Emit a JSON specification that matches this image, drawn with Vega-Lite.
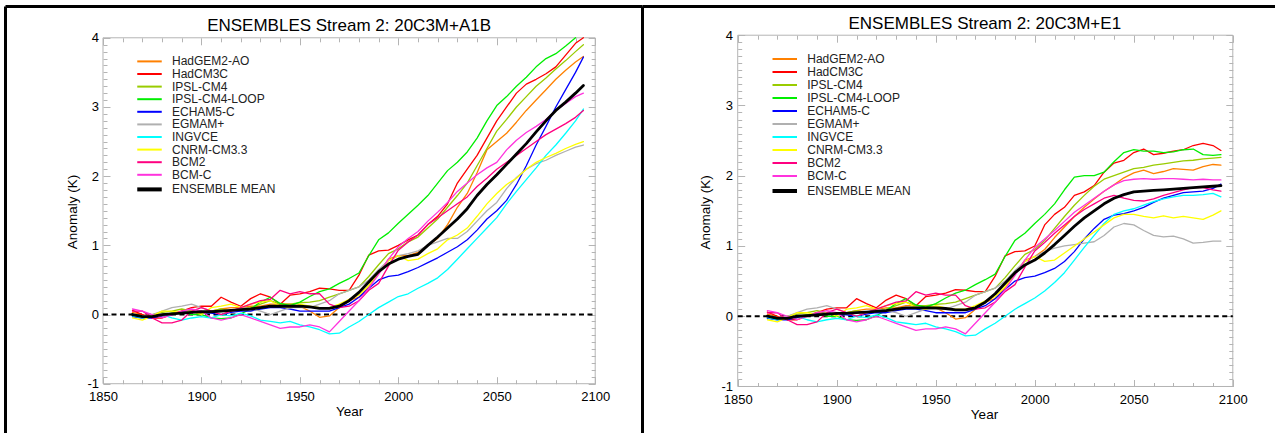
{
  "$schema": "https://vega.github.io/schema/vega-lite/v6.json",
  "background": "white",
  "padding": {"left": 5, "top": 6, "right": 0, "bottom": 0},
  "spacing": 0,
  "bounds": "flush",
  "config": {"view": {"stroke": null}, "font": "Liberation Sans", "axis": {"grid": false}},
  "resolve": {"scale": {"x": "independent", "y": "independent", "color": "independent"}, "axis": {"x": "independent", "y": "independent"}, "legend": {"color": "independent"}},
  "datasets": {
    "runs": [
      {"s":"h","t":1865,"HadGEM2-AO":0.03,"HadCM3C":0.06,"IPSL-CM4":0,"IPSL-CM4-LOOP":0,"ECHAM5-C":-0.03,"EGMAM+":0,"INGVCE":-0.02,"CNRM-CM3_3":-0.05,"BCM2":0.05,"BCM-C":0.08,"ENSEMBLE MEAN":0},
      {"s":"h","t":1870,"HadGEM2-AO":0,"HadCM3C":0,"IPSL-CM4":-0.03,"IPSL-CM4-LOOP":-0.02,"ECHAM5-C":-0.05,"EGMAM+":-0.02,"INGVCE":-0.05,"CNRM-CM3_3":-0.08,"BCM2":0.05,"BCM-C":0.05,"ENSEMBLE MEAN":-0.03},
      {"s":"h","t":1875,"HadGEM2-AO":-0.05,"HadCM3C":-0.05,"IPSL-CM4":0,"IPSL-CM4-LOOP":-0.03,"ECHAM5-C":-0.05,"EGMAM+":0,"INGVCE":-0.03,"CNRM-CM3_3":-0.02,"BCM2":-0.05,"BCM-C":0,"ENSEMBLE MEAN":-0.03},
      {"s":"h","t":1880,"HadGEM2-AO":-0.02,"HadCM3C":-0.05,"IPSL-CM4":0.03,"IPSL-CM4-LOOP":0,"ECHAM5-C":-0.02,"EGMAM+":0.05,"INGVCE":0,"CNRM-CM3_3":0.05,"BCM2":-0.12,"BCM-C":-0.05,"ENSEMBLE MEAN":0},
      {"s":"h","t":1885,"HadGEM2-AO":0.02,"HadCM3C":0,"IPSL-CM4":0.05,"IPSL-CM4-LOOP":0.02,"ECHAM5-C":0,"EGMAM+":0.1,"INGVCE":-0.05,"CNRM-CM3_3":0.05,"BCM2":-0.12,"BCM-C":0,"ENSEMBLE MEAN":0.01},
      {"s":"h","t":1890,"HadGEM2-AO":0.05,"HadCM3C":0.05,"IPSL-CM4":0.08,"IPSL-CM4-LOOP":0.03,"ECHAM5-C":0.03,"EGMAM+":0.12,"INGVCE":-0.08,"CNRM-CM3_3":0.02,"BCM2":-0.08,"BCM-C":0.05,"ENSEMBLE MEAN":0.02},
      {"s":"h","t":1895,"HadGEM2-AO":0.05,"HadCM3C":0.1,"IPSL-CM4":0.05,"IPSL-CM4-LOOP":0,"ECHAM5-C":0.05,"EGMAM+":0.15,"INGVCE":-0.05,"CNRM-CM3_3":0.05,"BCM2":0.05,"BCM-C":0.08,"ENSEMBLE MEAN":0.03},
      {"s":"h","t":1900,"HadGEM2-AO":0.03,"HadCM3C":0.12,"IPSL-CM4":0.02,"IPSL-CM4-LOOP":0,"ECHAM5-C":0.03,"EGMAM+":0.1,"INGVCE":-0.03,"CNRM-CM3_3":0,"BCM2":0.1,"BCM-C":0.05,"ENSEMBLE MEAN":0.04},
      {"s":"h","t":1905,"HadGEM2-AO":0.05,"HadCM3C":0.12,"IPSL-CM4":0.05,"IPSL-CM4-LOOP":-0.05,"ECHAM5-C":0.02,"EGMAM+":0.05,"INGVCE":-0.05,"CNRM-CM3_3":0.1,"BCM2":0.05,"BCM-C":-0.05,"ENSEMBLE MEAN":0.04},
      {"s":"h","t":1910,"HadGEM2-AO":0.08,"HadCM3C":0.25,"IPSL-CM4":0.08,"IPSL-CM4-LOOP":-0.06,"ECHAM5-C":0,"EGMAM+":0,"INGVCE":0,"CNRM-CM3_3":0.12,"BCM2":0,"BCM-C":-0.08,"ENSEMBLE MEAN":0.05},
      {"s":"h","t":1915,"HadGEM2-AO":0.1,"HadCM3C":0.18,"IPSL-CM4":0.05,"IPSL-CM4-LOOP":-0.05,"ECHAM5-C":0.03,"EGMAM+":0.05,"INGVCE":-0.02,"CNRM-CM3_3":0.15,"BCM2":0.05,"BCM-C":-0.05,"ENSEMBLE MEAN":0.06},
      {"s":"h","t":1920,"HadGEM2-AO":0.1,"HadCM3C":0.12,"IPSL-CM4":0.08,"IPSL-CM4-LOOP":0.01,"ECHAM5-C":0.05,"EGMAM+":0.1,"INGVCE":0.02,"CNRM-CM3_3":0.1,"BCM2":0.1,"BCM-C":0,"ENSEMBLE MEAN":0.07},
      {"s":"h","t":1925,"HadGEM2-AO":0.12,"HadCM3C":0.23,"IPSL-CM4":0.1,"IPSL-CM4-LOOP":0.08,"ECHAM5-C":0.05,"EGMAM+":0.08,"INGVCE":-0.02,"CNRM-CM3_3":0.15,"BCM2":0.15,"BCM-C":-0.05,"ENSEMBLE MEAN":0.08},
      {"s":"h","t":1930,"HadGEM2-AO":0.12,"HadCM3C":0.3,"IPSL-CM4":0.15,"IPSL-CM4-LOOP":0.18,"ECHAM5-C":0.08,"EGMAM+":0.05,"INGVCE":-0.08,"CNRM-CM3_3":0.18,"BCM2":0.2,"BCM-C":-0.1,"ENSEMBLE MEAN":0.1},
      {"s":"h","t":1935,"HadGEM2-AO":0.15,"HadCM3C":0.25,"IPSL-CM4":0.2,"IPSL-CM4-LOOP":0.25,"ECHAM5-C":0.1,"EGMAM+":0,"INGVCE":-0.1,"CNRM-CM3_3":0.2,"BCM2":0.22,"BCM-C":-0.15,"ENSEMBLE MEAN":0.12},
      {"s":"h","t":1940,"HadGEM2-AO":0.15,"HadCM3C":0.15,"IPSL-CM4":0.15,"IPSL-CM4-LOOP":0.16,"ECHAM5-C":0.1,"EGMAM+":0.05,"INGVCE":-0.12,"CNRM-CM3_3":0.12,"BCM2":0.35,"BCM-C":-0.2,"ENSEMBLE MEAN":0.12},
      {"s":"h","t":1945,"HadGEM2-AO":0.15,"HadCM3C":0.28,"IPSL-CM4":0.15,"IPSL-CM4-LOOP":0.13,"ECHAM5-C":0.08,"EGMAM+":0.1,"INGVCE":-0.1,"CNRM-CM3_3":0.1,"BCM2":0.3,"BCM-C":-0.18,"ENSEMBLE MEAN":0.12},
      {"s":"h","t":1950,"HadGEM2-AO":0.12,"HadCM3C":0.3,"IPSL-CM4":0.17,"IPSL-CM4-LOOP":0.18,"ECHAM5-C":0.05,"EGMAM+":0.1,"INGVCE":-0.15,"CNRM-CM3_3":0.15,"BCM2":0.33,"BCM-C":-0.18,"ENSEMBLE MEAN":0.12},
      {"s":"h","t":1955,"HadGEM2-AO":0.05,"HadCM3C":0.33,"IPSL-CM4":0.18,"IPSL-CM4-LOOP":0.26,"ECHAM5-C":0.05,"EGMAM+":0.1,"INGVCE":-0.18,"CNRM-CM3_3":0.12,"BCM2":0.3,"BCM-C":-0.15,"ENSEMBLE MEAN":0.11},
      {"s":"h","t":1960,"HadGEM2-AO":-0.04,"HadCM3C":0.38,"IPSL-CM4":0.2,"IPSL-CM4-LOOP":0.33,"ECHAM5-C":0.05,"EGMAM+":0.15,"INGVCE":-0.22,"CNRM-CM3_3":0.1,"BCM2":0.3,"BCM-C":-0.18,"ENSEMBLE MEAN":0.09},
      {"s":"h","t":1965,"HadGEM2-AO":-0.02,"HadCM3C":0.37,"IPSL-CM4":0.25,"IPSL-CM4-LOOP":0.37,"ECHAM5-C":0.05,"EGMAM+":0.2,"INGVCE":-0.28,"CNRM-CM3_3":0.1,"BCM2":0.15,"BCM-C":-0.25,"ENSEMBLE MEAN":0.09},
      {"s":"h","t":1970,"HadGEM2-AO":0.1,"HadCM3C":0.35,"IPSL-CM4":0.3,"IPSL-CM4-LOOP":0.45,"ECHAM5-C":0.1,"EGMAM+":0.3,"INGVCE":-0.27,"CNRM-CM3_3":0.15,"BCM2":0.1,"BCM-C":-0.1,"ENSEMBLE MEAN":0.12},
      {"s":"h","t":1975,"HadGEM2-AO":0.2,"HadCM3C":0.35,"IPSL-CM4":0.35,"IPSL-CM4-LOOP":0.52,"ECHAM5-C":0.15,"EGMAM+":0.35,"INGVCE":-0.18,"CNRM-CM3_3":0.22,"BCM2":0.12,"BCM-C":0.05,"ENSEMBLE MEAN":0.2},
      {"s":"h","t":1980,"HadGEM2-AO":0.25,"HadCM3C":0.57,"IPSL-CM4":0.4,"IPSL-CM4-LOOP":0.6,"ECHAM5-C":0.25,"EGMAM+":0.4,"INGVCE":-0.1,"CNRM-CM3_3":0.28,"BCM2":0.2,"BCM-C":0.2,"ENSEMBLE MEAN":0.32},
      {"s":"h","t":1985,"HadGEM2-AO":0.4,"HadCM3C":0.86,"IPSL-CM4":0.55,"IPSL-CM4-LOOP":0.85,"ECHAM5-C":0.38,"EGMAM+":0.5,"INGVCE":0,"CNRM-CM3_3":0.42,"BCM2":0.35,"BCM-C":0.38,"ENSEMBLE MEAN":0.47},
      {"s":"h","t":1990,"HadGEM2-AO":0.6,"HadCM3C":0.92,"IPSL-CM4":0.72,"IPSL-CM4-LOOP":1.08,"ECHAM5-C":0.5,"EGMAM+":0.65,"INGVCE":0.1,"CNRM-CM3_3":0.6,"BCM2":0.45,"BCM-C":0.58,"ENSEMBLE MEAN":0.62},
      {"s":"h","t":1995,"HadGEM2-AO":0.8,"HadCM3C":0.93,"IPSL-CM4":0.88,"IPSL-CM4-LOOP":1.18,"ECHAM5-C":0.55,"EGMAM+":0.78,"INGVCE":0.18,"CNRM-CM3_3":0.78,"BCM2":0.7,"BCM-C":0.8,"ENSEMBLE MEAN":0.73},
      {"s":"a","t":2000,"HadGEM2-AO":0.85,"HadCM3C":1.0,"IPSL-CM4":0.95,"IPSL-CM4-LOOP":1.32,"ECHAM5-C":0.57,"EGMAM+":0.85,"INGVCE":0.26,"CNRM-CM3_3":0.85,"BCM2":0.93,"BCM-C":0.98,"ENSEMBLE MEAN":0.8},
      {"s":"a","t":2005,"HadGEM2-AO":0.85,"HadCM3C":1.08,"IPSL-CM4":1.05,"IPSL-CM4-LOOP":1.45,"ECHAM5-C":0.62,"EGMAM+":0.88,"INGVCE":0.3,"CNRM-CM3_3":0.78,"BCM2":1.05,"BCM-C":1.1,"ENSEMBLE MEAN":0.84},
      {"s":"a","t":2010,"HadGEM2-AO":0.9,"HadCM3C":1.15,"IPSL-CM4":1.12,"IPSL-CM4-LOOP":1.58,"ECHAM5-C":0.68,"EGMAM+":0.92,"INGVCE":0.38,"CNRM-CM3_3":0.8,"BCM2":1.15,"BCM-C":1.2,"ENSEMBLE MEAN":0.87},
      {"s":"a","t":2015,"HadGEM2-AO":1.0,"HadCM3C":1.3,"IPSL-CM4":1.25,"IPSL-CM4-LOOP":1.72,"ECHAM5-C":0.75,"EGMAM+":1.0,"INGVCE":0.45,"CNRM-CM3_3":0.88,"BCM2":1.3,"BCM-C":1.35,"ENSEMBLE MEAN":1.0},
      {"s":"a","t":2020,"HadGEM2-AO":1.1,"HadCM3C":1.42,"IPSL-CM4":1.38,"IPSL-CM4-LOOP":1.9,"ECHAM5-C":0.82,"EGMAM+":1.05,"INGVCE":0.53,"CNRM-CM3_3":0.95,"BCM2":1.4,"BCM-C":1.48,"ENSEMBLE MEAN":1.12},
      {"s":"a","t":2025,"HadGEM2-AO":1.3,"HadCM3C":1.6,"IPSL-CM4":1.55,"IPSL-CM4-LOOP":2.08,"ECHAM5-C":0.9,"EGMAM+":1.1,"INGVCE":0.65,"CNRM-CM3_3":1.08,"BCM2":1.5,"BCM-C":1.62,"ENSEMBLE MEAN":1.25},
      {"s":"a","t":2030,"HadGEM2-AO":1.55,"HadCM3C":1.9,"IPSL-CM4":1.72,"IPSL-CM4-LOOP":2.2,"ECHAM5-C":0.98,"EGMAM+":1.1,"INGVCE":0.8,"CNRM-CM3_3":1.15,"BCM2":1.6,"BCM-C":1.78,"ENSEMBLE MEAN":1.38},
      {"s":"a","t":2035,"HadGEM2-AO":1.75,"HadCM3C":2.1,"IPSL-CM4":1.9,"IPSL-CM4-LOOP":2.35,"ECHAM5-C":1.08,"EGMAM+":1.2,"INGVCE":0.95,"CNRM-CM3_3":1.25,"BCM2":1.7,"BCM-C":1.9,"ENSEMBLE MEAN":1.53},
      {"s":"a","t":2040,"HadGEM2-AO":2.05,"HadCM3C":2.3,"IPSL-CM4":2.15,"IPSL-CM4-LOOP":2.55,"ECHAM5-C":1.22,"EGMAM+":1.35,"INGVCE":1.1,"CNRM-CM3_3":1.42,"BCM2":1.85,"BCM-C":2.02,"ENSEMBLE MEAN":1.72},
      {"s":"a","t":2045,"HadGEM2-AO":2.38,"HadCM3C":2.55,"IPSL-CM4":2.4,"IPSL-CM4-LOOP":2.8,"ECHAM5-C":1.38,"EGMAM+":1.5,"INGVCE":1.25,"CNRM-CM3_3":1.6,"BCM2":1.97,"BCM-C":2.12,"ENSEMBLE MEAN":1.88},
      {"s":"a","t":2050,"HadGEM2-AO":2.5,"HadCM3C":2.8,"IPSL-CM4":2.65,"IPSL-CM4-LOOP":3.02,"ECHAM5-C":1.5,"EGMAM+":1.62,"INGVCE":1.4,"CNRM-CM3_3":1.75,"BCM2":2.1,"BCM-C":2.2,"ENSEMBLE MEAN":2.02},
      {"s":"a","t":2055,"HadGEM2-AO":2.62,"HadCM3C":3.0,"IPSL-CM4":2.82,"IPSL-CM4-LOOP":3.15,"ECHAM5-C":1.65,"EGMAM+":1.82,"INGVCE":1.6,"CNRM-CM3_3":1.88,"BCM2":2.2,"BCM-C":2.38,"ENSEMBLE MEAN":2.17},
      {"s":"a","t":2060,"HadGEM2-AO":2.78,"HadCM3C":3.2,"IPSL-CM4":3.0,"IPSL-CM4-LOOP":3.3,"ECHAM5-C":1.88,"EGMAM+":1.98,"INGVCE":1.78,"CNRM-CM3_3":1.97,"BCM2":2.3,"BCM-C":2.52,"ENSEMBLE MEAN":2.32},
      {"s":"a","t":2065,"HadGEM2-AO":2.95,"HadCM3C":3.33,"IPSL-CM4":3.15,"IPSL-CM4-LOOP":3.43,"ECHAM5-C":2.15,"EGMAM+":2.1,"INGVCE":1.95,"CNRM-CM3_3":2.1,"BCM2":2.4,"BCM-C":2.63,"ENSEMBLE MEAN":2.47},
      {"s":"a","t":2070,"HadGEM2-AO":3.1,"HadCM3C":3.4,"IPSL-CM4":3.3,"IPSL-CM4-LOOP":3.58,"ECHAM5-C":2.45,"EGMAM+":2.18,"INGVCE":2.12,"CNRM-CM3_3":2.2,"BCM2":2.5,"BCM-C":2.72,"ENSEMBLE MEAN":2.64},
      {"s":"a","t":2075,"HadGEM2-AO":3.25,"HadCM3C":3.48,"IPSL-CM4":3.42,"IPSL-CM4-LOOP":3.7,"ECHAM5-C":2.72,"EGMAM+":2.23,"INGVCE":2.3,"CNRM-CM3_3":2.27,"BCM2":2.6,"BCM-C":2.82,"ENSEMBLE MEAN":2.8},
      {"s":"a","t":2080,"HadGEM2-AO":3.4,"HadCM3C":3.58,"IPSL-CM4":3.55,"IPSL-CM4-LOOP":3.77,"ECHAM5-C":3.0,"EGMAM+":2.3,"INGVCE":2.45,"CNRM-CM3_3":2.33,"BCM2":2.68,"BCM-C":2.95,"ENSEMBLE MEAN":2.95},
      {"s":"a","t":2085,"HadGEM2-AO":3.53,"HadCM3C":3.75,"IPSL-CM4":3.67,"IPSL-CM4-LOOP":3.88,"ECHAM5-C":3.25,"EGMAM+":2.36,"INGVCE":2.62,"CNRM-CM3_3":2.4,"BCM2":2.76,"BCM-C":3.05,"ENSEMBLE MEAN":3.07},
      {"s":"a","t":2090,"HadGEM2-AO":3.65,"HadCM3C":3.92,"IPSL-CM4":3.8,"IPSL-CM4-LOOP":4.0,"ECHAM5-C":3.5,"EGMAM+":2.42,"INGVCE":2.8,"CNRM-CM3_3":2.46,"BCM2":2.85,"BCM-C":3.15,"ENSEMBLE MEAN":3.2},
      {"s":"a","t":2094,"HadGEM2-AO":3.73,"HadCM3C":4.0,"IPSL-CM4":3.9,"IPSL-CM4-LOOP":null,"ECHAM5-C":3.72,"EGMAM+":2.45,"INGVCE":2.97,"CNRM-CM3_3":2.5,"BCM2":2.95,"BCM-C":3.2,"ENSEMBLE MEAN":3.31},
      {"s":"e","t":2000,"HadGEM2-AO":0.85,"HadCM3C":1.0,"IPSL-CM4":0.95,"IPSL-CM4-LOOP":1.32,"ECHAM5-C":0.57,"EGMAM+":0.85,"INGVCE":0.26,"CNRM-CM3_3":0.85,"BCM2":0.93,"BCM-C":0.98,"ENSEMBLE MEAN":0.8},
      {"s":"e","t":2005,"HadGEM2-AO":0.95,"HadCM3C":1.3,"IPSL-CM4":1.08,"IPSL-CM4-LOOP":1.45,"ECHAM5-C":0.62,"EGMAM+":0.92,"INGVCE":0.36,"CNRM-CM3_3":0.78,"BCM2":1.05,"BCM-C":1.1,"ENSEMBLE MEAN":0.9},
      {"s":"e","t":2010,"HadGEM2-AO":1.12,"HadCM3C":1.45,"IPSL-CM4":1.25,"IPSL-CM4-LOOP":1.6,"ECHAM5-C":0.68,"EGMAM+":0.97,"INGVCE":0.48,"CNRM-CM3_3":0.8,"BCM2":1.18,"BCM-C":1.22,"ENSEMBLE MEAN":1.02},
      {"s":"e","t":2015,"HadGEM2-AO":1.27,"HadCM3C":1.55,"IPSL-CM4":1.42,"IPSL-CM4-LOOP":1.8,"ECHAM5-C":0.78,"EGMAM+":1.0,"INGVCE":0.62,"CNRM-CM3_3":0.9,"BCM2":1.3,"BCM-C":1.35,"ENSEMBLE MEAN":1.15},
      {"s":"e","t":2020,"HadGEM2-AO":1.42,"HadCM3C":1.72,"IPSL-CM4":1.58,"IPSL-CM4-LOOP":1.98,"ECHAM5-C":0.92,"EGMAM+":1.02,"INGVCE":0.8,"CNRM-CM3_3":1.0,"BCM2":1.42,"BCM-C":1.48,"ENSEMBLE MEAN":1.28},
      {"s":"e","t":2025,"HadGEM2-AO":1.55,"HadCM3C":1.77,"IPSL-CM4":1.72,"IPSL-CM4-LOOP":2.0,"ECHAM5-C":1.1,"EGMAM+":1.04,"INGVCE":0.98,"CNRM-CM3_3":1.1,"BCM2":1.52,"BCM-C":1.58,"ENSEMBLE MEAN":1.4},
      {"s":"e","t":2030,"HadGEM2-AO":1.67,"HadCM3C":1.86,"IPSL-CM4":1.85,"IPSL-CM4-LOOP":2.0,"ECHAM5-C":1.25,"EGMAM+":1.06,"INGVCE":1.15,"CNRM-CM3_3":1.2,"BCM2":1.6,"BCM-C":1.68,"ENSEMBLE MEAN":1.5},
      {"s":"e","t":2035,"HadGEM2-AO":1.78,"HadCM3C":2.05,"IPSL-CM4":1.95,"IPSL-CM4-LOOP":2.05,"ECHAM5-C":1.38,"EGMAM+":1.15,"INGVCE":1.32,"CNRM-CM3_3":1.3,"BCM2":1.68,"BCM-C":1.78,"ENSEMBLE MEAN":1.6},
      {"s":"e","t":2040,"HadGEM2-AO":1.87,"HadCM3C":2.18,"IPSL-CM4":2.0,"IPSL-CM4-LOOP":2.2,"ECHAM5-C":1.44,"EGMAM+":1.27,"INGVCE":1.45,"CNRM-CM3_3":1.4,"BCM2":1.72,"BCM-C":1.87,"ENSEMBLE MEAN":1.68},
      {"s":"e","t":2045,"HadGEM2-AO":1.97,"HadCM3C":2.22,"IPSL-CM4":2.05,"IPSL-CM4-LOOP":2.33,"ECHAM5-C":1.46,"EGMAM+":1.32,"INGVCE":1.5,"CNRM-CM3_3":1.45,"BCM2":1.68,"BCM-C":1.93,"ENSEMBLE MEAN":1.73},
      {"s":"e","t":2050,"HadGEM2-AO":2.04,"HadCM3C":2.33,"IPSL-CM4":2.1,"IPSL-CM4-LOOP":2.37,"ECHAM5-C":1.5,"EGMAM+":1.3,"INGVCE":1.53,"CNRM-CM3_3":1.45,"BCM2":1.65,"BCM-C":1.95,"ENSEMBLE MEAN":1.77},
      {"s":"e","t":2055,"HadGEM2-AO":2.08,"HadCM3C":2.38,"IPSL-CM4":2.12,"IPSL-CM4-LOOP":2.35,"ECHAM5-C":1.55,"EGMAM+":1.22,"INGVCE":1.58,"CNRM-CM3_3":1.42,"BCM2":1.64,"BCM-C":1.96,"ENSEMBLE MEAN":1.78},
      {"s":"e","t":2060,"HadGEM2-AO":2.03,"HadCM3C":2.3,"IPSL-CM4":2.15,"IPSL-CM4-LOOP":2.35,"ECHAM5-C":1.62,"EGMAM+":1.15,"INGVCE":1.63,"CNRM-CM3_3":1.4,"BCM2":1.67,"BCM-C":1.95,"ENSEMBLE MEAN":1.79},
      {"s":"e","t":2065,"HadGEM2-AO":2.06,"HadCM3C":2.32,"IPSL-CM4":2.17,"IPSL-CM4-LOOP":2.33,"ECHAM5-C":1.68,"EGMAM+":1.13,"INGVCE":1.67,"CNRM-CM3_3":1.43,"BCM2":1.72,"BCM-C":1.96,"ENSEMBLE MEAN":1.8},
      {"s":"e","t":2070,"HadGEM2-AO":2.1,"HadCM3C":2.35,"IPSL-CM4":2.19,"IPSL-CM4-LOOP":2.34,"ECHAM5-C":1.72,"EGMAM+":1.14,"INGVCE":1.7,"CNRM-CM3_3":1.4,"BCM2":1.76,"BCM-C":1.96,"ENSEMBLE MEAN":1.81},
      {"s":"e","t":2075,"HadGEM2-AO":2.09,"HadCM3C":2.37,"IPSL-CM4":2.21,"IPSL-CM4-LOOP":2.37,"ECHAM5-C":1.76,"EGMAM+":1.1,"INGVCE":1.72,"CNRM-CM3_3":1.42,"BCM2":1.8,"BCM-C":1.95,"ENSEMBLE MEAN":1.82},
      {"s":"e","t":2080,"HadGEM2-AO":2.08,"HadCM3C":2.43,"IPSL-CM4":2.22,"IPSL-CM4-LOOP":2.38,"ECHAM5-C":1.77,"EGMAM+":1.04,"INGVCE":1.72,"CNRM-CM3_3":1.4,"BCM2":1.83,"BCM-C":1.94,"ENSEMBLE MEAN":1.83},
      {"s":"e","t":2085,"HadGEM2-AO":2.13,"HadCM3C":2.46,"IPSL-CM4":2.24,"IPSL-CM4-LOOP":2.3,"ECHAM5-C":1.78,"EGMAM+":1.05,"INGVCE":1.73,"CNRM-CM3_3":1.38,"BCM2":1.83,"BCM-C":1.95,"ENSEMBLE MEAN":1.84},
      {"s":"e","t":2090,"HadGEM2-AO":2.16,"HadCM3C":2.43,"IPSL-CM4":2.25,"IPSL-CM4-LOOP":2.29,"ECHAM5-C":1.82,"EGMAM+":1.07,"INGVCE":1.75,"CNRM-CM3_3":1.44,"BCM2":1.8,"BCM-C":1.94,"ENSEMBLE MEAN":1.85},
      {"s":"e","t":2094,"HadGEM2-AO":2.15,"HadCM3C":2.36,"IPSL-CM4":2.26,"IPSL-CM4-LOOP":2.3,"ECHAM5-C":1.88,"EGMAM+":1.07,"INGVCE":1.7,"CNRM-CM3_3":1.5,"BCM2":1.78,"BCM-C":1.94,"ENSEMBLE MEAN":1.86}
    ]
  },
  "hconcat": [
    {
      "width": 637,
      "height": 427,
      "title": {"text": "ENSEMBLES Stream 2: 20C3M+A1B", "font": "Liberation Sans", "fontSize": 17, "fontWeight": "normal", "color": "#000", "anchor": "middle", "frame": "group", "baseline": "alphabetic", "offset": -42.4, "dx": 25.6},
      "resolve": {"axis": {"x": "independent", "y": "independent"}},
      "layer": [
        {
          "data": {"values": [{}]},
          "mark": {"type": "rect", "fill": "transparent", "stroke": "#b4b4b4", "strokeWidth": 1},
          "encoding": {
            "x": {"datum": 1850, "type": "quantitative", "scale": {"domain": [1800.23, 2123.77], "nice": false, "zero": false}, "axis": {"orient": "top", "offset": 0, "domain": true, "domainColor": "#000", "domainWidth": 3, "ticks": false, "labels": false, "title": null, "grid": false}},
            "x2": {"datum": 2100},
            "y": {"datum": -1, "type": "quantitative", "scale": {"domain": [-1.7124, 4.4595], "nice": false, "zero": false}, "axis": {"orient": "left", "offset": 0, "domain": true, "domainColor": "#000", "domainWidth": 3, "ticks": false, "labels": false, "title": null, "grid": false}},
            "y2": {"datum": 4}
          }
        },
        {
          "data": {"values": [{}]},
          "mark": {"type": "rule", "strokeDash": [5, 3.5], "strokeWidth": 2, "color": "#000"},
          "encoding": {
            "x": {"datum": 1850, "type": "quantitative", "scale": {"domain": [1800.23, 2123.77], "nice": false, "zero": false}, "axis": {"orient": "top", "offset": -31.8, "values": [1850,1860,1870,1880,1890,1900,1910,1920,1930,1940,1950,1960,1970,1980,1990,2000,2010,2020,2030,2040,2050,2060,2070,2080,2090,2100], "domain": false, "ticks": true, "tickColor": "#b4b4b4", "tickWidth": 1, "tickSize": {"condition": {"test": "datum.value % 50 === 0", "value": -7}, "value": -4}, "labels": false, "title": null, "grid": false}},
            "x2": {"datum": 2100},
            "y": {"datum": 0, "type": "quantitative", "scale": {"domain": [-1.7124, 4.4595], "nice": false, "zero": false}, "axis": {"orient": "right", "offset": -46.8, "values": [-1,-0.9,-0.8,-0.7,-0.6,-0.5,-0.4,-0.3,-0.2,-0.1,0,0.1,0.2,0.3,0.4,0.5,0.6,0.7,0.8,0.9,1,1.1,1.2,1.3,1.4,1.5,1.6,1.7,1.8,1.9,2,2.1,2.2,2.3,2.4,2.5,2.6,2.7,2.8,2.9,3,3.1,3.2,3.3,3.4,3.5,3.6,3.7,3.8,3.9,4], "domain": false, "ticks": true, "tickColor": "#b4b4b4", "tickWidth": 1, "tickSize": {"condition": {"test": "abs(datum.value - round(datum.value)) < 0.001", "value": -7}, "value": -4}, "labels": false, "title": null, "grid": false}}
          }
        },
        {
          "data": {"name": "runs"},
          "transform": [
            {"filter": "datum.s !== 'e'"},
            {"fold": ["HadGEM2-AO","HadCM3C","IPSL-CM4","IPSL-CM4-LOOP","ECHAM5-C","EGMAM+","INGVCE","CNRM-CM3_3","BCM2","BCM-C","ENSEMBLE MEAN"], "as": ["model", "anom"]}
          ],
          "mark": {"type": "line", "strokeJoin": "round", "strokeCap": "round"},
          "encoding": {
            "x": {"field": "t", "type": "quantitative", "scale": {"domain": [1800.23, 2123.77], "nice": false, "zero": false}, "axis": {"orient": "bottom", "offset": -49.3, "values": [1850,1860,1870,1880,1890,1900,1910,1920,1930,1940,1950,1960,1970,1980,1990,2000,2010,2020,2030,2040,2050,2060,2070,2080,2090,2100], "domain": false, "ticks": true, "tickColor": "#b4b4b4", "tickWidth": 1, "tickSize": {"condition": {"test": "datum.value % 50 === 0", "value": -7}, "value": -4}, "labelExpr": "datum.value % 50 === 0 ? toString(datum.value) : ''", "labelFont": "Liberation Sans", "labelFontSize": 13, "labelColor": "#000", "labelPadding": 20, "labelBaseline": "middle", "labelFlush": false, "labelOverlap": false, "labelBound": false, "title": "Year", "titleFont": "Liberation Sans", "titleFontSize": 13.5, "titleFontWeight": "normal", "titleColor": "#000", "titleX": 344.1, "titleY": 27.8, "titleAlign": "center", "titleBaseline": "middle", "grid": false}},
            "y": {"field": "anom", "type": "quantitative", "scale": {"domain": [-1.7124, 4.4595], "nice": false, "zero": false}, "axis": {"orient": "left", "offset": -98, "values": [-1,-0.9,-0.8,-0.7,-0.6,-0.5,-0.4,-0.3,-0.2,-0.1,0,0.1,0.2,0.3,0.4,0.5,0.6,0.7,0.8,0.9,1,1.1,1.2,1.3,1.4,1.5,1.6,1.7,1.8,1.9,2,2.1,2.2,2.3,2.4,2.5,2.6,2.7,2.8,2.9,3,3.1,3.2,3.3,3.4,3.5,3.6,3.7,3.8,3.9,4], "domain": false, "ticks": true, "tickColor": "#b4b4b4", "tickWidth": 1, "tickSize": {"condition": {"test": "abs(datum.value - round(datum.value)) < 0.001", "value": -7}, "value": -4}, "labelExpr": "abs(datum.value - round(datum.value)) < 0.001 ? toString(round(datum.value)) : ''", "labelFont": "Liberation Sans", "labelFontSize": 13, "labelColor": "#000", "labelPadding": 11.5, "labelAlign": "right", "labelBaseline": "middle", "labelFlush": false, "labelOverlap": false, "labelBound": false, "title": "Anomaly (K)", "titleFont": "Liberation Sans", "titleFontSize": 13.5, "titleFontWeight": "normal", "titleColor": "#000", "titleX": -31, "titleY": 205.5, "titleAngle": 270, "titleAlign": "center", "titleBaseline": "middle", "grid": false}},
            "color": {"field": "model", "type": "nominal", "scale": {"domain": ["HadGEM2-AO","HadCM3C","IPSL-CM4","IPSL-CM4-LOOP","ECHAM5-C","EGMAM+","INGVCE","CNRM-CM3_3","BCM2","BCM-C","ENSEMBLE MEAN"], "range": ["#ff8000","#ff0000","#99cc00","#00ee00","#0000ff","#b0b0b0","#00ffff","#ffff00","#ff0080","#ff33dd","#000000"]}, "legend": {"orient": "none", "legendX": 138.5, "legendY": 49.4, "title": null, "padding": 0, "symbolType": "M-5,0L5,0", "symbolSize": 24, "symbolStrokeWidth": 2, "rowPadding": 0.6, "labelOffset": 16.5, "labelFont": "Liberation Sans", "labelFontSize": 12, "labelColor": "#222", "labelExpr": "replace(datum.label, '_', '.')", "encode": {"symbols": {"update": {"strokeWidth": {"signal": "datum.value === 'ENSEMBLE MEAN' ? 4 : 2"}}}}}},
            "strokeWidth": {"condition": {"test": "datum.model === 'ENSEMBLE MEAN'", "value": 2.8}, "value": 1.3}
          }
        }
      ]
    },
    {
      "width": 633,
      "height": 427,
      "title": {"text": "ENSEMBLES Stream 2: 20C3M+E1", "font": "Liberation Sans", "fontSize": 17, "fontWeight": "normal", "color": "#000", "anchor": "middle", "frame": "group", "baseline": "alphabetic", "offset": -39.7, "dx": 26.3},
      "resolve": {"axis": {"x": "independent", "y": "independent"}},
      "layer": [
        {
          "data": {"values": [{}]},
          "mark": {"type": "rect", "fill": "transparent", "stroke": "#b4b4b4", "strokeWidth": 1},
          "encoding": {
            "x": {"datum": 1850, "type": "quantitative", "scale": {"domain": [1801.67, 2121.31], "nice": false, "zero": false}, "axis": {"orient": "top", "offset": 0, "domain": true, "domainColor": "#000", "domainWidth": 3, "ticks": false, "labels": false, "title": null, "grid": false}},
            "x2": {"datum": 2100},
            "y": {"datum": -1, "type": "quantitative", "scale": {"domain": [-1.6619, 4.4157], "nice": false, "zero": false}, "axis": {"orient": "left", "offset": 0, "domain": true, "domainColor": "#000", "domainWidth": 3, "ticks": false, "labels": false, "title": null, "grid": false}},
            "y2": {"datum": 4}
          }
        },
        {
          "data": {"values": [{}]},
          "mark": {"type": "rule", "strokeDash": [5, 3.5], "strokeWidth": 2, "color": "#000"},
          "encoding": {
            "x": {"datum": 1850, "type": "quantitative", "scale": {"domain": [1801.67, 2121.31], "nice": false, "zero": false}, "axis": {"orient": "top", "offset": -29.2, "values": [1850,1860,1870,1880,1890,1900,1910,1920,1930,1940,1950,1960,1970,1980,1990,2000,2010,2020,2030,2040,2050,2060,2070,2080,2090,2100], "domain": false, "ticks": true, "tickColor": "#b4b4b4", "tickWidth": 1, "tickSize": {"condition": {"test": "datum.value % 50 === 0", "value": -7}, "value": -4}, "labels": false, "title": null, "grid": false}},
            "x2": {"datum": 2100},
            "y": {"datum": 0, "type": "quantitative", "scale": {"domain": [-1.6619, 4.4157], "nice": false, "zero": false}, "axis": {"orient": "right", "offset": -42.2, "values": [-1,-0.9,-0.8,-0.7,-0.6,-0.5,-0.4,-0.3,-0.2,-0.1,0,0.1,0.2,0.3,0.4,0.5,0.6,0.7,0.8,0.9,1,1.1,1.2,1.3,1.4,1.5,1.6,1.7,1.8,1.9,2,2.1,2.2,2.3,2.4,2.5,2.6,2.7,2.8,2.9,3,3.1,3.2,3.3,3.4,3.5,3.6,3.7,3.8,3.9,4], "domain": false, "ticks": true, "tickColor": "#b4b4b4", "tickWidth": 1, "tickSize": {"condition": {"test": "abs(datum.value - round(datum.value)) < 0.001", "value": -7}, "value": -4}, "labels": false, "title": null, "grid": false}}
          }
        },
        {
          "data": {"name": "runs"},
          "transform": [
            {"filter": "datum.s !== 'a'"},
            {"fold": ["HadGEM2-AO","HadCM3C","IPSL-CM4","IPSL-CM4-LOOP","ECHAM5-C","EGMAM+","INGVCE","CNRM-CM3_3","BCM2","BCM-C","ENSEMBLE MEAN"], "as": ["model", "anom"]}
          ],
          "mark": {"type": "line", "strokeJoin": "round", "strokeCap": "round"},
          "encoding": {
            "x": {"field": "t", "type": "quantitative", "scale": {"domain": [1801.67, 2121.31], "nice": false, "zero": false}, "axis": {"orient": "bottom", "offset": -46.5, "values": [1850,1860,1870,1880,1890,1900,1910,1920,1930,1940,1950,1960,1970,1980,1990,2000,2010,2020,2030,2040,2050,2060,2070,2080,2090,2100], "domain": false, "ticks": true, "tickColor": "#b4b4b4", "tickWidth": 1, "tickSize": {"condition": {"test": "datum.value % 50 === 0", "value": -7}, "value": -4}, "labelExpr": "datum.value % 50 === 0 ? toString(datum.value) : ''", "labelFont": "Liberation Sans", "labelFontSize": 13, "labelColor": "#000", "labelPadding": 20, "labelBaseline": "middle", "labelFlush": false, "labelOverlap": false, "labelBound": false, "title": "Year", "titleFont": "Liberation Sans", "titleFontSize": 13.5, "titleFontWeight": "normal", "titleColor": "#000", "titleX": 342, "titleY": 28, "titleAlign": "center", "titleBaseline": "middle", "grid": false}},
            "y": {"field": "anom", "type": "quantitative", "scale": {"domain": [-1.6619, 4.4157], "nice": false, "zero": false}, "axis": {"orient": "left", "offset": -95.7, "values": [-1,-0.9,-0.8,-0.7,-0.6,-0.5,-0.4,-0.3,-0.2,-0.1,0,0.1,0.2,0.3,0.4,0.5,0.6,0.7,0.8,0.9,1,1.1,1.2,1.3,1.4,1.5,1.6,1.7,1.8,1.9,2,2.1,2.2,2.3,2.4,2.5,2.6,2.7,2.8,2.9,3,3.1,3.2,3.3,3.4,3.5,3.6,3.7,3.8,3.9,4], "domain": false, "ticks": true, "tickColor": "#b4b4b4", "tickWidth": 1, "tickSize": {"condition": {"test": "abs(datum.value - round(datum.value)) < 0.001", "value": -7}, "value": -4}, "labelExpr": "abs(datum.value - round(datum.value)) < 0.001 ? toString(round(datum.value)) : ''", "labelFont": "Liberation Sans", "labelFontSize": 13, "labelColor": "#000", "labelPadding": 12.2, "labelAlign": "right", "labelBaseline": "middle", "labelFlush": false, "labelOverlap": false, "labelBound": false, "title": "Anomaly (K)", "titleFont": "Liberation Sans", "titleFontSize": 13.5, "titleFontWeight": "normal", "titleColor": "#000", "titleX": -32.2, "titleY": 205.8, "titleAngle": 270, "titleAlign": "center", "titleBaseline": "middle", "grid": false}},
            "color": {"field": "model", "type": "nominal", "scale": {"domain": ["HadGEM2-AO","HadCM3C","IPSL-CM4","IPSL-CM4-LOOP","ECHAM5-C","EGMAM+","INGVCE","CNRM-CM3_3","BCM2","BCM-C","ENSEMBLE MEAN"], "range": ["#ff8000","#ff0000","#99cc00","#00ee00","#0000ff","#b0b0b0","#00ffff","#ffff00","#ff0080","#ff33dd","#000000"]}, "legend": {"orient": "none", "legendX": 136.75, "legendY": 47, "title": null, "padding": 0, "symbolType": "M-5,0L5,0", "symbolSize": 24, "symbolStrokeWidth": 2, "rowPadding": 1.0, "labelOffset": 16.5, "labelFont": "Liberation Sans", "labelFontSize": 12, "labelColor": "#222", "labelExpr": "replace(datum.label, '_', '.')", "encode": {"symbols": {"update": {"strokeWidth": {"signal": "datum.value === 'ENSEMBLE MEAN' ? 4 : 2"}}}}}},
            "strokeWidth": {"condition": {"test": "datum.model === 'ENSEMBLE MEAN'", "value": 2.8}, "value": 1.3}
          }
        }
      ]
    }
  ]
}
